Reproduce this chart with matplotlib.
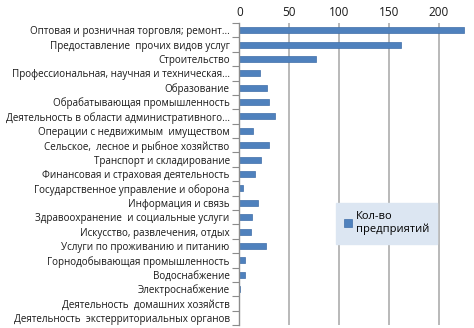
import numpy as np
import matplotlib.pyplot as plt
from matplotlib.patches import Patch

# Количество предприятий по видам экономической деятельности
categories = [
    'Оптовая и розничная торговля; ремонт...',
    'Предоставление  прочих видов услуг',
    'Строительство',
    'Профессиональная, научная и техническая...',
    'Образование',
    'Обрабатывающая промышленность',
    'Деятельность в области административного...',
    'Операции с недвижимым  имуществом',
    'Сельское,  лесное и рыбное хозяйство',
    'Транспорт и складирование',
    'Финансовая и страховая деятельность',
    'Государственное управление и оборона',
    'Информация и связь',
    'Здравоохранение  и социальные услуги',
    'Искусство, развлечения, отдых',
    'Услуги по проживанию и питанию',
    'Горнодобывающая промышленность',
    'Водоснабжение',
    'Электроснабжение',
    'Деятельность  домашних хозяйств',
    'Деятельность  экстерриториальных органов',
]
counts = [225, 162, 77, 21, 28, 30, 36, 14, 30, 22, 16, 4, 19,
          13, 12, 27, 6, 6, 1, 0, 0]
xticks = [0, 50, 100, 150, 200]

plt.rcParams['font.family'] = ['Open Sans', 'DejaVu Sans']

fig = plt.figure(figsize=(4.74, 3.28), dpi=100)
ax = fig.add_axes([0.505, 0.009, 0.495, 0.921])

y = np.arange(len(categories))
ax.barh(y, counts, height=0.42, color='#4f81bd', edgecolor='#3f6ea8',
        linewidth=0.5, zorder=3)

ax.set_ylim(len(categories) - 0.5, -0.5)
ax.set_xlim(0, 235)

ax.set_yticks(y)
ax.set_yticklabels(categories, fontsize=7.1, color='#1a1a1a')
ax.set_yticks(np.arange(-0.5, len(categories)), minor=True)
ax.tick_params(axis='y', which='major', length=0, pad=7)
ax.tick_params(axis='y', which='minor', length=5, width=0.8, color='#8c8c8c',
               direction='out')

ax.xaxis.tick_top()
ax.set_xticks(xticks)
ax.tick_params(axis='x', length=0, labelsize=8.5, labelcolor='#1a1a1a', pad=3)
ax.grid(axis='x', color='#b3b3b3', linewidth=1.3, zorder=0)

for side in ['top', 'right', 'bottom']:
    ax.spines[side].set_visible(False)
ax.spines['left'].set_color('#8c8c8c')
ax.spines['left'].set_linewidth(1.0)
ax.spines['left'].set_zorder(4)

handle = Patch(facecolor='#4f81bd', edgecolor='#3f6ea8', linewidth=0.5)
leg = ax.legend([handle], ['Кол-во\nпредприятий'], loc='upper left',
                bbox_to_anchor=(0.41, 0.405), fontsize=8,
                frameon=True, fancybox=False, handlelength=0.7,
                handleheight=0.7, handletextpad=0.35, borderpad=0.75,
                borderaxespad=0)
leg.get_frame().set_facecolor('#dce6f2')
leg.get_frame().set_edgecolor('#dce6f2')
leg.get_frame().set_alpha(1)
leg.set_zorder(5)

fig.savefig('out.png', dpi=100)
